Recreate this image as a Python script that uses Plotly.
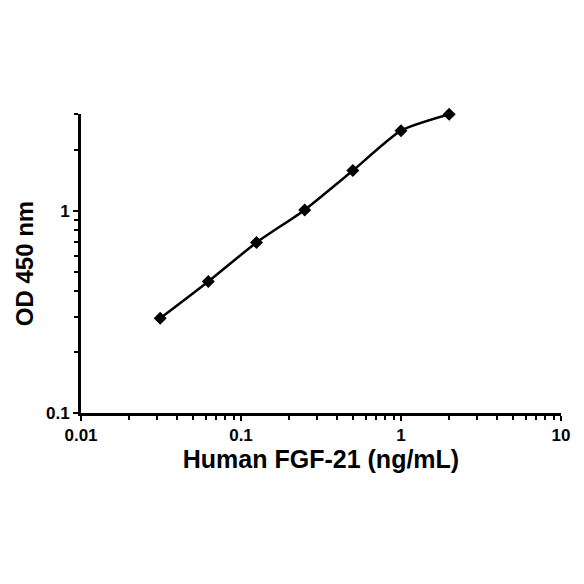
import plotly.graph_objects as go

conc = [0.03125, 0.0625, 0.125, 0.25, 0.5, 1.0, 2.0]
od = [0.294, 0.447, 0.697, 1.01, 1.58, 2.49, 3.0]
x_ticks = [0.01, 0.1, 1, 10]
x_labels = ["0.01", "0.1", "1", "10"]
y_ticks = [0.1, 1]
y_labels = ["0.1", "1"]

fig = go.Figure()
fig.add_trace(go.Scatter(
    x=conc, y=od, mode="lines+markers",
    line=dict(color="black", width=2.5, shape="spline", smoothing=0.6),
    marker=dict(symbol="diamond", size=10, color="black"),
    cliponaxis=False,
    showlegend=False,
))

font = dict(family="Liberation Sans, Arial, sans-serif", color="black")
fig.update_layout(
    width=584, height=584,
    margin=dict(l=73, r=31, t=106, b=179, autoexpand=False),
    paper_bgcolor="white", plot_bgcolor="white",
    font=font,
    xaxis=dict(
        type="log", range=[-2, 1],
        tickvals=x_ticks, ticktext=x_labels,
        ticks="outside", ticklen=5, tickwidth=2, tickcolor="black",
        showline=True, linecolor="black", linewidth=3,
        showgrid=False, zeroline=False,
        tickfont=dict(size=17, family="Liberation Sans", weight="bold"),
        minor=dict(ticks="outside", ticklen=4, tickwidth=2, tickcolor="black", dtick="D1", showgrid=False),
        title=dict(text="<b>Human FGF-21 (ng/mL)</b>", font=dict(size=25), standoff=7),
    ),
    yaxis=dict(
        type="log", range=[-1, 0.4785],
        tickvals=y_ticks, ticktext=y_labels,
        ticks="outside", ticklen=5, tickwidth=2, tickcolor="black",
        showline=True, linecolor="black", linewidth=3,
        showgrid=False, zeroline=False,
        tickfont=dict(size=17, family="Liberation Sans", weight="bold"),
        minor=dict(ticks="outside", ticklen=4, tickwidth=2, tickcolor="black", dtick="D1", showgrid=False),
        title=dict(text="<b>OD 450 nm</b>", font=dict(size=24), standoff=6),
    ),
)
fig.write_html("out.html")
